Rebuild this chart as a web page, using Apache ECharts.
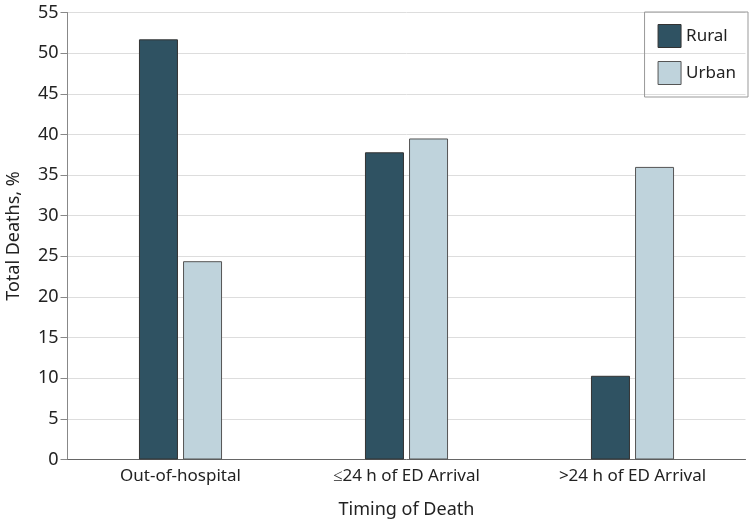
<!DOCTYPE html>
<html><head><meta charset="utf-8">
<script src="https://cdn.jsdelivr.net/npm/echarts@6/dist/echarts.min.js"></script>
<style>html,body{margin:0;padding:0;background:#fff}#c{width:750px;height:524px}</style>
</head><body><div id="c"></div>
<script>
const categories = ['Out-of-hospital', '≤24 h of ED Arrival', '>24 h of ED Arrival'];
const rural = [51.7, 37.8, 10.3];
const urban = [24.4, 39.5, 36.0];
const seriesNames = ['Rural', 'Urban'];
const yTicks = {min: 0, max: 55, interval: 5};

const font = 'Noto Sans';
const chart = echarts.init(document.getElementById('c'));
chart.setOption({
  animation: false,
  textStyle: {fontFamily: font},
  grid: {left: 67.5, right: 4.5, top: 12.5, bottom: 64.5, outerBoundsMode: 'none', containLabel: false},
  legend: {
    right: 2, top: 12, orient: 'vertical', icon: 'rect',
    padding: [12, 12, 12, 13], itemGap: 13,
    itemWidth: 23, itemHeight: 23,
    borderColor: '#999', borderWidth: 1,
    textStyle: {fontSize: 17, color: '#222', fontFamily: font},
    itemStyle: {borderWidth: 1},
    data: seriesNames
  },
  xAxis: {
    type: 'category', data: categories,
    name: 'Timing of Death', nameLocation: 'middle', nameGap: 41,
    nameTextStyle: {fontSize: 18, color: '#222'},
    axisLine: {lineStyle: {color: '#666'}},
    axisTick: {show: false},
    axisLabel: {fontSize: 17, color: '#222', margin: 8}
  },
  yAxis: {
    type: 'value', min: yTicks.min, max: yTicks.max, interval: yTicks.interval,
    name: 'Total Deaths, %', nameLocation: 'middle', nameGap: 45,
    nameTextStyle: {fontSize: 18, color: '#222'},
    axisLine: {show: true, lineStyle: {color: '#888'}},
    axisTick: {show: true, length: 7, lineStyle: {color: '#888'}},
    axisLabel: {fontSize: 18, color: '#222', margin: 9},
    splitLine: {lineStyle: {color: '#ddd', width: 1}}
  },
  series: [
    {name: seriesNames[0], type: 'bar', data: rural, barWidth: 39, barGap: '13%',
     itemStyle: {color: '#2f5262', borderColor: '#333', borderWidth: 1}},
    {name: seriesNames[1], type: 'bar', data: urban, barWidth: 39,
     itemStyle: {color: '#bfd3dc', borderColor: '#555', borderWidth: 1}}
  ]
});
</script></body></html>
